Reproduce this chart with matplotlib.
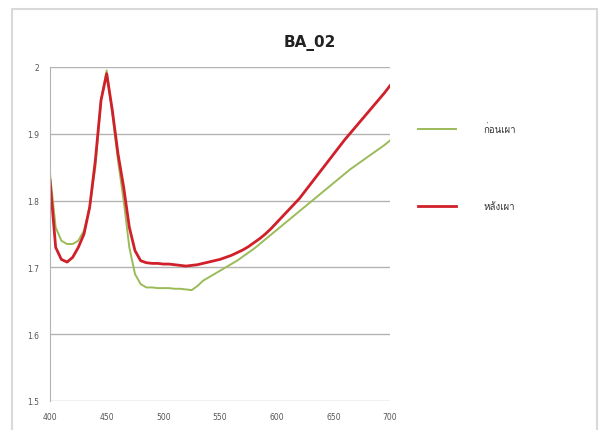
import matplotlib
matplotlib.use("Agg")
import matplotlib.pyplot as plt
from matplotlib import font_manager
from matplotlib.ft2font import FT2Font
from matplotlib.patches import Rectangle

wavelength = list(range(400, 701, 5))

before = [1.84, 1.76, 1.74, 1.735, 1.735, 1.74, 1.755, 1.79, 1.85, 1.95,
          1.995, 1.93, 1.86, 1.80, 1.73, 1.69, 1.675, 1.67, 1.67, 1.669,
          1.669, 1.669, 1.668, 1.668, 1.667, 1.666, 1.672, 1.68, 1.685, 1.69,
          1.695, 1.70, 1.705, 1.71, 1.716, 1.722, 1.728, 1.735, 1.742, 1.749,
          1.756, 1.763, 1.77, 1.777, 1.784, 1.791, 1.798, 1.805, 1.812, 1.819,
          1.826, 1.833, 1.84, 1.847, 1.853, 1.859, 1.865, 1.871, 1.877, 1.883,
          1.89]

after = [1.83, 1.73, 1.712, 1.708, 1.715, 1.73, 1.75, 1.79, 1.86, 1.95,
         1.99, 1.935, 1.87, 1.82, 1.76, 1.725, 1.71, 1.707, 1.706, 1.706,
         1.705, 1.705, 1.704, 1.703, 1.702, 1.703, 1.704, 1.706, 1.708, 1.71,
         1.712, 1.715, 1.718, 1.722, 1.726, 1.731, 1.737, 1.743, 1.75, 1.758,
         1.767, 1.776, 1.785, 1.794, 1.803, 1.814, 1.825, 1.836, 1.847, 1.858,
         1.869, 1.88, 1.891, 1.901, 1.911, 1.921, 1.931, 1.941, 1.951, 1.961,
         1.972]

labels = ["ก่อนเผา", "หลังเผา"]
title = "BA_02"
xticks = [400, 450, 500, 550, 600, 650, 700]
yticks = [1.5, 1.6, 1.7, 1.8, 1.9, 2.0]
ytick_labels = ["1.5", "1.6", "1.7", "1.8", "1.9", "2"]


def find_thai_font():
    for f in font_manager.fontManager.ttflist:
        try:
            if 0x0E01 in FT2Font(f.fname).get_charmap():
                return f.name
        except Exception:
            pass
    return None


thai = find_thai_font()
fams = ([thai] if thai else []) + ["DejaVu Sans"]

fig = plt.figure(figsize=(5.99, 4.31), dpi=100)
fig.patches.append(Rectangle((12 / 599, -0.01), 585 / 599, 1 - 10 / 431 + 0.01,
                             transform=fig.transFigure, fill=False,
                             edgecolor="#d9d9d9", linewidth=1.5))

ax = fig.add_axes([50 / 599, 1 - 402 / 431, 340 / 599, 334 / 431])
ax.plot(wavelength, before, color="#9bbb59", linewidth=1.4, label=labels[0])
ax.plot(wavelength, after, color="#d0202a", linewidth=2.0, label=labels[1])

ax.set_xlim(400, 700)
ax.set_ylim(1.5, 2.0)
ax.set_xticks(xticks)
ax.set_yticks(yticks)
ax.set_yticklabels(ytick_labels)
ax.tick_params(labelsize=5.5, colors="#555555", length=0, pad=8)
ax.grid(axis="y", color="#b3b3b3", linewidth=1)
for s in ["top", "right", "bottom"]:
    ax.spines[s].set_visible(False)
ax.spines["left"].set_color("#b3b3b3")

fig.text(310 / 599, 1 - 43 / 431, title, ha="center", va="center",
         fontsize=11, fontweight="bold", color="#222222")

leg = fig.legend(loc="center left", bbox_to_anchor=(413 / 599, 1 - 168 / 431),
                 frameon=False, prop={"family": fams, "size": 7},
                 labelspacing=7, handlelength=3.9, handletextpad=2.8,
                 borderpad=0)
for t in leg.get_texts():
    t.set_color("#333333")

fig.savefig("out.png", dpi=100)
